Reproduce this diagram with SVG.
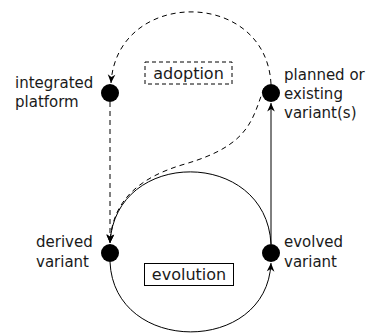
<svg xmlns="http://www.w3.org/2000/svg" width="370" height="333" viewBox="0 0 370 333">
<defs>
<marker id="arr" markerWidth="10" markerHeight="10" viewBox="-9 -5 10 10" refX="0" refY="0" orient="auto" markerUnits="userSpaceOnUse">
<path d="M0,0 L-8.5,-3.8 L-6,0 L-8.5,3.8 Z" fill="#000"/>
</marker>
<style>
.lbl{font-family:"DejaVu Sans",sans-serif;font-size:15px;fill:#1a1a1a}
.box{font-family:"DejaVu Sans",sans-serif;font-size:16px;fill:#1a1a1a}
.e{fill:none;stroke:#000;stroke-width:1}
.d{stroke-dasharray:5,4}
.n{fill:#000}
</style>
</defs>
<g id="connectors">
<path class="e d" d="M271 84 C266 -12,117 -12,111 83" marker-end="url(#arr)"/>
<path class="e d" d="M110 102 L110 243" marker-end="url(#arr)"/>
<path class="e d" d="M264 88 C252 120,250 145,185 164 C140 177,112 200,110 243" marker-end="url(#arr)"/>
<path class="e" d="M271 244 C266 148,115 148,110 243" marker-end="url(#arr)"/>
<path class="e" d="M110 262 C114 355,267 355,271 263" marker-end="url(#arr)"/>
<path class="e" d="M271 244 L271 103" marker-end="url(#arr)"/>
</g>
<g id="integrated">
<circle class="n" cx="110" cy="93" r="9"/>
<text class="lbl" x="15" y="88">integrated</text>
<text class="lbl" x="15" y="107">platform</text>
</g>
<g id="planned">
<circle class="n" cx="271" cy="93" r="9"/>
<text class="lbl" x="284" y="80">planned or</text>
<text class="lbl" x="284" y="99">existing</text>
<text class="lbl" x="284" y="118">variant(s)</text>
</g>
<g id="derived">
<circle class="n" cx="110" cy="253" r="9"/>
<text class="lbl" x="36" y="247">derived</text>
<text class="lbl" x="36" y="267">variant</text>
</g>
<g id="evolved">
<circle class="n" cx="271" cy="253" r="9"/>
<text class="lbl" x="284" y="247">evolved</text>
<text class="lbl" x="284" y="267">variant</text>
</g>
<g id="adoption">
<rect x="145" y="62" width="87" height="22" fill="none" stroke="#000" stroke-width="1" stroke-dasharray="4,3"/>
<text class="box" x="188.5" y="79" text-anchor="middle">adoption</text>
</g>
<g id="evolution">
<rect x="144.5" y="263.5" width="89" height="22" fill="none" stroke="#000" stroke-width="1"/>
<text class="box" x="189" y="280" text-anchor="middle">evolution</text>
</g>
</svg>
